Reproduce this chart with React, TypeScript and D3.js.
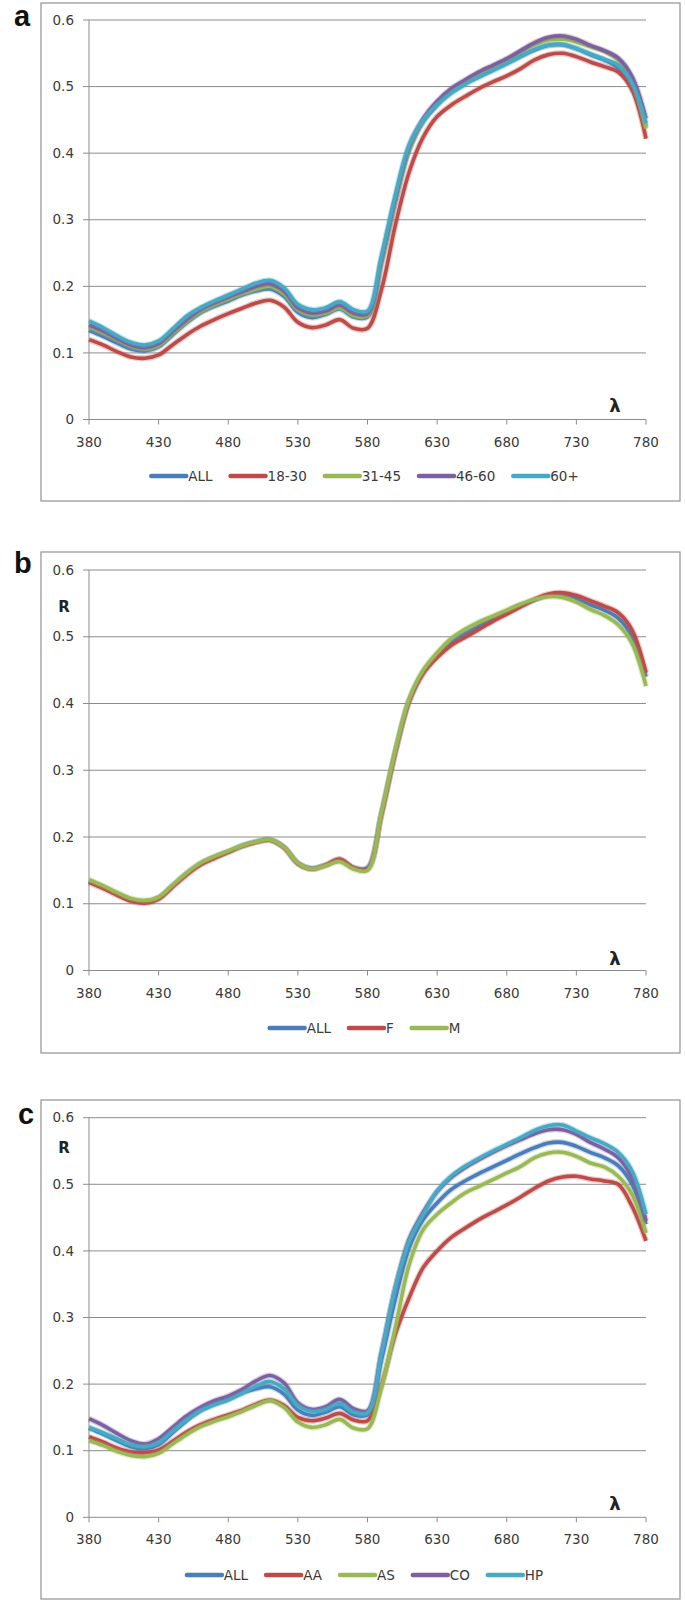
import * as d3 from 'd3'

// wavelength grid (nm)
const WAVELENGTHS = [
  380, 390, 400, 410, 420, 430, 440, 450, 460, 470, 480, 490, 500, 510, 520, 530, 540, 550, 560, 570, 580,
  590, 600, 610, 620, 630, 640, 650, 660, 670, 680, 690, 700, 710, 720, 730, 740, 750, 760, 770, 780,
]

const X_TICKS = [380, 430, 480, 530, 580, 630, 680, 730, 780]
const Y_TICKS = [0, 0.1, 0.2, 0.3, 0.4, 0.5, 0.6]

// reflectance
const ALL = [
  0.134, 0.125, 0.115, 0.106, 0.103, 0.109, 0.127, 0.145, 0.16, 0.17, 0.178, 0.187, 0.193, 0.196, 0.185, 0.161, 0.153,
  0.158, 0.166, 0.154, 0.154, 0.236, 0.328, 0.405, 0.447, 0.472, 0.492, 0.505, 0.516, 0.526, 0.536, 0.546, 0.555, 0.562,
  0.563, 0.557, 0.548, 0.54, 0.528, 0.5, 0.44,
]

// panel a: age groups
const AGE_18_30 = [
  0.12, 0.112, 0.102, 0.094, 0.092, 0.097, 0.112, 0.127, 0.14, 0.15, 0.159, 0.167, 0.175, 0.179, 0.169, 0.146, 0.138,
  0.142, 0.15, 0.137, 0.137, 0.195, 0.292, 0.372, 0.424, 0.455, 0.472, 0.485, 0.497, 0.507, 0.516, 0.527, 0.54, 0.548,
  0.55, 0.545, 0.537, 0.53, 0.522, 0.495, 0.422,
]
const AGE_31_45 = [
  0.139, 0.13, 0.12, 0.11, 0.106, 0.111, 0.129, 0.147, 0.162, 0.172, 0.181, 0.189, 0.196, 0.2, 0.189, 0.165, 0.157,
  0.16, 0.168, 0.156, 0.156, 0.236, 0.328, 0.406, 0.449, 0.476, 0.495, 0.508, 0.52, 0.53, 0.54, 0.552, 0.563, 0.57,
  0.571, 0.567, 0.56, 0.553, 0.54, 0.51, 0.437,
]
const AGE_46_60 = [
  0.142, 0.133, 0.122, 0.112, 0.108, 0.114, 0.132, 0.15, 0.165, 0.175, 0.184, 0.192, 0.2, 0.204, 0.193, 0.168, 0.16,
  0.163, 0.172, 0.16, 0.159, 0.24, 0.332, 0.41, 0.452, 0.478, 0.497, 0.51, 0.522, 0.532, 0.542, 0.554, 0.566, 0.574,
  0.576, 0.571, 0.562, 0.554, 0.543, 0.515, 0.452,
]
const AGE_60_PLUS = [
  0.148, 0.138, 0.126, 0.116, 0.112, 0.118, 0.136, 0.155, 0.168, 0.178, 0.187, 0.196, 0.205, 0.209, 0.198, 0.173, 0.165,
  0.168, 0.177, 0.165, 0.163, 0.245, 0.337, 0.413, 0.45, 0.473, 0.49, 0.503, 0.514, 0.524, 0.534, 0.545, 0.556, 0.562,
  0.563, 0.557, 0.549, 0.541, 0.532, 0.505, 0.445,
]

// panel b: gender
const FEMALE = [
  0.132, 0.123, 0.113, 0.104, 0.101, 0.107, 0.125, 0.143, 0.158, 0.168, 0.177, 0.186, 0.192, 0.195, 0.184, 0.16, 0.152,
  0.158, 0.167, 0.154, 0.152, 0.232, 0.326, 0.403, 0.445, 0.469, 0.487, 0.499, 0.511, 0.523, 0.534, 0.545, 0.556, 0.564,
  0.566, 0.562, 0.554, 0.546, 0.536, 0.51, 0.446,
]
const MALE = [
  0.136, 0.127, 0.117, 0.108, 0.105, 0.11, 0.128, 0.146, 0.161, 0.171, 0.179, 0.187, 0.193, 0.196, 0.185, 0.161, 0.152,
  0.157, 0.163, 0.152, 0.15, 0.236, 0.33, 0.407, 0.45, 0.476, 0.497, 0.511, 0.522, 0.531, 0.54, 0.549, 0.556, 0.56,
  0.559, 0.552, 0.541, 0.532, 0.518, 0.49, 0.426,
]

// panel c: ethnicity
const ETH_AA = [
  0.121, 0.113, 0.104, 0.098, 0.097, 0.101, 0.114, 0.128, 0.139, 0.147, 0.154, 0.161, 0.17, 0.176, 0.168, 0.15, 0.145,
  0.149, 0.156, 0.146, 0.145, 0.198, 0.275, 0.33, 0.375, 0.4, 0.42, 0.434, 0.447, 0.458, 0.469, 0.481, 0.494, 0.505,
  0.511, 0.512, 0.508, 0.505, 0.5, 0.467, 0.415,
]
const ETH_AS = [
  0.115, 0.108, 0.099, 0.093, 0.091, 0.096, 0.11, 0.124, 0.136, 0.144, 0.151, 0.159, 0.168, 0.175, 0.165, 0.143, 0.135,
  0.139, 0.147, 0.134, 0.133, 0.195, 0.285, 0.38, 0.432, 0.455, 0.472, 0.487, 0.497, 0.507, 0.517, 0.527, 0.54, 0.547,
  0.548, 0.542, 0.532, 0.526, 0.512, 0.485, 0.427,
]
const ETH_CO = [
  0.148, 0.138, 0.126, 0.115, 0.11, 0.118, 0.135, 0.152, 0.165, 0.175, 0.182, 0.192, 0.205, 0.213, 0.202, 0.172, 0.162,
  0.166, 0.177, 0.163, 0.16, 0.248, 0.345, 0.418, 0.458, 0.489, 0.51, 0.525, 0.537, 0.548, 0.558, 0.567, 0.576, 0.582,
  0.582, 0.575, 0.563, 0.553, 0.54, 0.51, 0.445,
]
const ETH_HP = [
  0.135, 0.127, 0.118, 0.109, 0.106, 0.112, 0.129, 0.146, 0.16, 0.169, 0.176, 0.186, 0.197, 0.204, 0.193, 0.168, 0.159,
  0.162, 0.171, 0.158, 0.157, 0.245, 0.345, 0.415, 0.455, 0.49, 0.512, 0.527, 0.539, 0.55, 0.56, 0.57, 0.581, 0.588,
  0.589, 0.58, 0.57, 0.561, 0.548, 0.52, 0.455,
]

const BLUE = '#4a7ebb'
const RED = '#be4b48'
const GREEN = '#98b954'
const PURPLE = '#7d60a0'
const CYAN = '#46aac5'

interface Series {
  name: string
  color: string
  values: number[]
}

interface PanelLayout {
  label: string
  labelX: number
  labelY: number
  boxTop: number
  boxBottom: number
  yTop: number
  yZero: number
  rY: number | null
  xLabelY: number
  lambdaY: number
  legendY: number
}

const FONT = "'DejaVu Sans', Verdana, sans-serif"
const BOX_LEFT = 41
const BOX_RIGHT = 680
const PLOT_LEFT = 89
const PLOT_RIGHT = 646
const LEGEND_CENTER = 365
const TICK_FONT = 13.5

let measureCtx: CanvasRenderingContext2D | null = null
function textWidth(s: string) {
  if (!measureCtx) measureCtx = document.createElement('canvas').getContext('2d')
  if (!measureCtx) return s.length * 8
  measureCtx.font = `${TICK_FONT}px ${FONT}`
  return measureCtx.measureText(s).width
}

function Panel({ layout, series }: { layout: PanelLayout; series: Series[] }) {
  const x = d3.scaleLinear().domain([380, 780]).range([PLOT_LEFT, PLOT_RIGHT])
  const y = d3.scaleLinear().domain([0, 0.6]).range([layout.yZero, layout.yTop])

  const line = d3
    .line<number>()
    .x((_, i) => x(WAVELENGTHS[i]))
    .y((d) => y(d))
    .curve(d3.curveCatmullRom.alpha(0.5))

  // legend layout: 35px swatch, 2px gap, text, 18px spacing
  const items = series.map((s) => ({ ...s, w: 37 + textWidth(s.name) }))
  const total = d3.sum(items, (d) => d.w) + 18 * (items.length - 1)
  let cursor = LEGEND_CENTER - total / 2
  const legend = items.map((it) => {
    const pos = cursor
    cursor += it.w + 18
    return { ...it, x0: pos }
  })

  return (
    <g>
      <rect
        x={BOX_LEFT}
        y={layout.boxTop}
        width={BOX_RIGHT - BOX_LEFT}
        height={layout.boxBottom - layout.boxTop}
        fill="#fff"
        stroke="#9a9a9a"
        strokeWidth={1.3}
      />
      <text x={layout.labelX} y={layout.labelY} fontFamily="'Liberation Sans', Arial, sans-serif" fontWeight="bold" fontSize={29} fill="#111">
        {layout.label}
      </text>

      {/* gridlines + y ticks */}
      {Y_TICKS.map((t) => (
        <g key={t}>
          {t > 0 && <line x1={PLOT_LEFT} x2={PLOT_RIGHT} y1={y(t)} y2={y(t)} stroke="#8c8c8c" strokeWidth={1} />}
          <line x1={PLOT_LEFT - 6} x2={PLOT_LEFT} y1={y(t)} y2={y(t)} stroke="#8c8c8c" strokeWidth={1} />
          <text x={74} y={y(t)} dy="0.35em" textAnchor="end" fontFamily={FONT} fontSize={TICK_FONT} fill="#3a3a3a">
            {t === 0 ? '0' : t.toFixed(1)}
          </text>
        </g>
      ))}
      <line x1={PLOT_LEFT} x2={PLOT_LEFT} y1={layout.yTop} y2={layout.yZero} stroke="#8c8c8c" strokeWidth={1} />

      {/* x axis */}
      <line x1={PLOT_LEFT} x2={PLOT_RIGHT} y1={layout.yZero} y2={layout.yZero} stroke="#8c8c8c" strokeWidth={1} />
      {X_TICKS.map((t) => (
        <g key={t}>
          <line x1={x(t)} x2={x(t)} y1={layout.yZero} y2={layout.yZero + 5} stroke="#8c8c8c" strokeWidth={1} />
          <text x={x(t)} y={layout.xLabelY} dy="0.35em" textAnchor="middle" fontFamily={FONT} fontSize={TICK_FONT} fill="#3a3a3a">
            {t}
          </text>
        </g>
      ))}

      {layout.rY !== null && (
        <text x={64} y={layout.rY} dy="0.35em" textAnchor="middle" fontFamily={FONT} fontWeight="bold" fontSize={15} fill="#222">
          R
        </text>
      )}
      <text x={615} y={layout.lambdaY} dy="0.35em" textAnchor="middle" fontFamily={FONT} fontWeight="bold" fontSize={18} fill="#222">
        λ
      </text>

      {/* series */}
      {series.map((s) => (
        <g key={s.name}>
          <path d={line(s.values) ?? ''} fill="none" stroke={s.color} strokeOpacity={0.3} strokeWidth={6} />
          <path d={line(s.values) ?? ''} fill="none" stroke={s.color} strokeWidth={3.6} />
        </g>
      ))}

      {/* legend */}
      {legend.map((it) => (
        <g key={it.name}>
          <line x1={it.x0} x2={it.x0 + 35} y1={layout.legendY} y2={layout.legendY} stroke={it.color} strokeWidth={4.5} strokeLinecap="round" />
          <text x={it.x0 + 37} y={layout.legendY} dy="0.35em" fontFamily={FONT} fontSize={TICK_FONT} fill="#3a3a3a">
            {it.name}
          </text>
        </g>
      ))}
    </g>
  )
}

const LAYOUT_A: PanelLayout = {
  label: 'a', labelX: 14, labelY: 26, boxTop: 3, boxBottom: 501, yTop: 20, yZero: 419.5,
  rY: null, xLabelY: 442, lambdaY: 406, legendY: 476,
}
const LAYOUT_B: PanelLayout = {
  label: 'b', labelX: 14, labelY: 573, boxTop: 552, boxBottom: 1053, yTop: 570, yZero: 970.5,
  rY: 607, xLabelY: 993, lambdaY: 959, legendY: 1028,
}
const LAYOUT_C: PanelLayout = {
  label: 'c', labelX: 18, labelY: 1124, boxTop: 1100, boxBottom: 1599, yTop: 1117.7, yZero: 1517.3,
  rY: 1148, xLabelY: 1539, lambdaY: 1504, legendY: 1575,
}

export default function App() {
  const seriesA: Series[] = [
    { name: 'ALL', color: BLUE, values: ALL },
    { name: '18-30', color: RED, values: AGE_18_30 },
    { name: '31-45', color: GREEN, values: AGE_31_45 },
    { name: '46-60', color: PURPLE, values: AGE_46_60 },
    { name: '60+', color: CYAN, values: AGE_60_PLUS },
  ]
  const seriesB: Series[] = [
    { name: 'ALL', color: BLUE, values: ALL },
    { name: 'F', color: RED, values: FEMALE },
    { name: 'M', color: GREEN, values: MALE },
  ]
  const seriesC: Series[] = [
    { name: 'ALL', color: BLUE, values: ALL },
    { name: 'AA', color: RED, values: ETH_AA },
    { name: 'AS', color: GREEN, values: ETH_AS },
    { name: 'CO', color: PURPLE, values: ETH_CO },
    { name: 'HP', color: CYAN, values: ETH_HP },
  ]

  return (
    <svg
      width={685}
      height={1603}
      style={{ position: 'absolute', left: 0, top: 0, display: 'block', background: '#fff' }}
    >
      <Panel layout={LAYOUT_A} series={seriesA} />
      <Panel layout={LAYOUT_B} series={seriesB} />
      <Panel layout={LAYOUT_C} series={seriesC} />
    </svg>
  )
}
